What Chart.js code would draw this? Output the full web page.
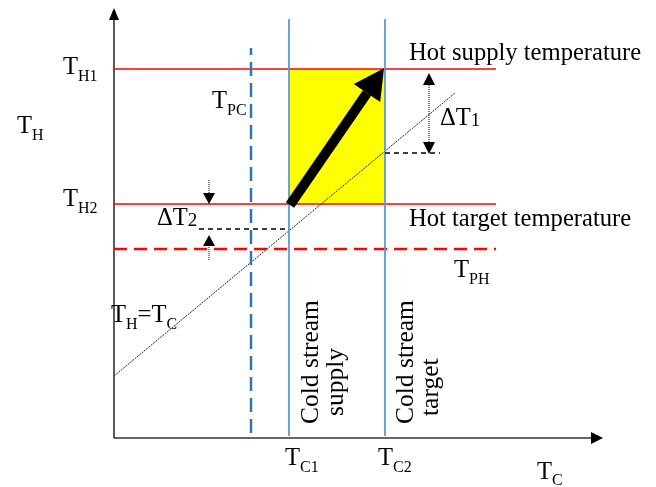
<!DOCTYPE html>
<html>
<head>
<meta charset="utf-8">
<script src="https://cdn.jsdelivr.net/npm/chart.js@4/dist/chart.umd.min.js"></script>
<style>
  html, body { margin: 0; padding: 0; background: #fff; }
  #wrap { width: 656px; height: 487px; }
</style>
</head>
<body>
<div id="wrap"><canvas id="chart" width="656" height="487"></canvas></div>
<script>
// values (axis units, origin at the axes corner)
const hotLevels = [369, 234];        // T_H1, T_H2
const hotPinch = [189];              // T_PH
const coldLevels = [175, 271];       // T_C1, T_C2
const coldPinch = [137];             // T_PC
const equalLineX = [0, 341];         // T_H = T_C
const equalLineY = [62, 345];
const streamX = [176, 253];          // hot stream arrow (shaft)
const streamY = [233, 345];
const deltaT1Y = [296, 353];
const deltaT2UpperY = [258, 245];
const deltaT2LowerY = [178, 192];
const deltaT1Base = [285];
const deltaT2Base = [209];

const xMax = 489;
const yMax = 430;

function pts(xs, ys) {
    return xs.map((x, i) => ({ x, y: ys[i] }));
}

function seg(xs, ys, style) {
    return Object.assign({
        data: pts(xs, ys),
        borderColor: "#000",
        borderWidth: 1,
        pointRadius: 0,
        fill: false,
        clip: false,
        order: 5,
    }, style);
}

const datasets = [];
// axes with arrows
datasets.push(seg([0, 0], [0, yMax - 12], { borderColor: "#333", borderWidth: 1.6, arrow: { end: true, len: 12, width: 10, color: "#000" } }));
datasets.push(seg([0, xMax - 12], [0, 0], { borderColor: "#333", borderWidth: 1.6, arrow: { end: true, len: 12, width: 12, color: "#000" } }));
// yellow region
datasets.push(seg(coldLevels, [hotLevels[0], hotLevels[0]], { borderWidth: 0, backgroundColor: "#FFFF00", fill: { value: hotLevels[1] }, order: 20 }));
// hot levels
hotLevels.forEach(v => datasets.push(seg([0, 382], [v, v], { borderColor: "#FF0000", borderWidth: 1.5, order: 4 })));
datasets.push(seg([0, 382], [hotPinch[0], hotPinch[0]], { borderColor: "#FF0000", borderWidth: 2.5, borderDash: [13, 7], order: 4 }));
// cold levels
coldLevels.forEach(v => datasets.push(seg([v, v], [2, 419], { borderColor: "#5B9BD5", borderWidth: 1.8, order: 3 })));
datasets.push(seg([coldPinch[0], coldPinch[0]], [5, 390], { borderColor: "#2E75B6", borderWidth: 2.5, borderDash: [14, 7], order: 3 }));
// T_H = T_C
datasets.push(seg(equalLineX, equalLineY, { borderColor: "#222", borderWidth: 1, borderDash: [2, 1], order: 6 }));
// delta T helper lines
datasets.push(seg([85, coldLevels[0]], [deltaT2Base[0], deltaT2Base[0]], { borderWidth: 1.4, borderDash: [5, 4], order: 2 }));
datasets.push(seg([coldLevels[1], 326], [deltaT1Base[0], deltaT1Base[0]], { borderWidth: 1.4, borderDash: [5, 4], order: 2 }));
// delta T arrows
datasets.push(seg([315, 315], deltaT1Y, { borderWidth: 1, borderDash: [1, 1], arrow: { start: true, end: true, len: 12, width: 12 } }));
datasets.push(seg([95, 95], deltaT2UpperY, { borderWidth: 1, borderDash: [1, 1], arrow: { end: true, len: 11, width: 12 } }));
datasets.push(seg([95, 95], deltaT2LowerY, { borderWidth: 1, borderDash: [1, 1], arrow: { end: true, len: 11, width: 12 } }));
// hot stream arrow
datasets.push(seg(streamX, streamY, { borderWidth: 10, order: 0, arrow: { end: true, len: 30, width: 32 } }));

const arrowPlugin = {
    id: "arrows",
    afterDatasetsDraw(chart) {
        const ctx = chart.ctx;
        chart.data.datasets.forEach((ds, i) => {
            if (!ds.arrow) return;
            const p = chart.getDatasetMeta(i).data;
            const head = (a, b) => {
                const dx = b.x - a.x, dy = b.y - a.y;
                const l = Math.hypot(dx, dy);
                const ux = dx / l, uy = dy / l;
                const w = ds.arrow.width / 2;
                ctx.beginPath();
                ctx.moveTo(b.x + ux * ds.arrow.len, b.y + uy * ds.arrow.len);
                ctx.lineTo(b.x - uy * w, b.y + ux * w);
                ctx.lineTo(b.x + uy * w, b.y - ux * w);
                ctx.closePath();
                ctx.fill();
            };
            ctx.save();
            ctx.fillStyle = ds.arrow.color || "#000";
            if (ds.arrow.end) head(p[p.length - 2], p[p.length - 1]);
            if (ds.arrow.start) head(p[1], p[0]);
            ctx.restore();
        });
    },
};

// text labels: [parts, x, y, rotated]; parts are [text, size, dy]
const M = 24.6, S = 16, R = 25.5;
const labels = [
    [[["T", M, 0], ["H1", S, 7]], -51, 364],
    [[["T", M, 0], ["H2", S, 7]], -51, 232],
    [[["T", M, 0], ["H", S, 7]], -97, 305],
    [[["T", M, 0], ["PC", S, 7]], 98, 330],
    [[["ΔT", M, 0], ["2", 19, 1]], 43, 213],
    [[["ΔT", M, 0], ["1", 19, 1]], 326, 313],
    [[["Hot supply temperature", M, 0]], 295, 378],
    [[["Hot target temperature", M, 0]], 295, 212],
    [[["T", M, 0], ["PH", S, 7]], 340, 161],
    [[["T", M, 0], ["H", S, 7], ["=T", M, 0], ["C", S, 7]], -3, 116],
    [[["T", M, 0], ["C1", S, 7]], 171, -27],
    [[["T", M, 0], ["C2", S, 7]], 264, -27],
    [[["T", M, 0], ["C", S, 6]], 423, -41],
    [[["Cold stream", R, 0]], 204, 14, true],
    [[["supply", R, 0]], 229, 22, true],
    [[["Cold stream", R, 0]], 299, 14, true],
    [[["target", R, 0]], 324, 22, true],
];

const textPlugin = {
    id: "texts",
    afterDraw(chart) {
        const ctx = chart.ctx;
        const xs = chart.scales.x, ys = chart.scales.y;
        labels.forEach(([parts, x, y, rot]) => {
            ctx.save();
            ctx.translate(xs.getPixelForValue(x), ys.getPixelForValue(y));
            if (rot) ctx.rotate(-Math.PI / 2);
            ctx.fillStyle = "#000";
            ctx.textBaseline = "alphabetic";
            let cx = 0;
            parts.forEach(([t, size, dy]) => {
                ctx.font = size + "px 'Liberation Serif', 'Times New Roman', serif";
                ctx.fillText(t, cx, dy);
                cx += ctx.measureText(t).width;
            });
            ctx.restore();
        });
    },
};

new Chart(document.getElementById("chart"), {
    type: "line",
    data: { datasets },
    options: {
        responsive: false,
        animation: false,
        events: [],
        layout: { padding: { left: 114, right: 53, top: 8, bottom: 49 } },
        scales: {
            x: { type: "linear", min: 0, max: xMax, display: false },
            y: { type: "linear", min: 0, max: yMax, display: false },
        },
        plugins: { legend: { display: false }, tooltip: { enabled: false } },
    },
    plugins: [arrowPlugin, textPlugin],
});
</script>
</body>
</html>
